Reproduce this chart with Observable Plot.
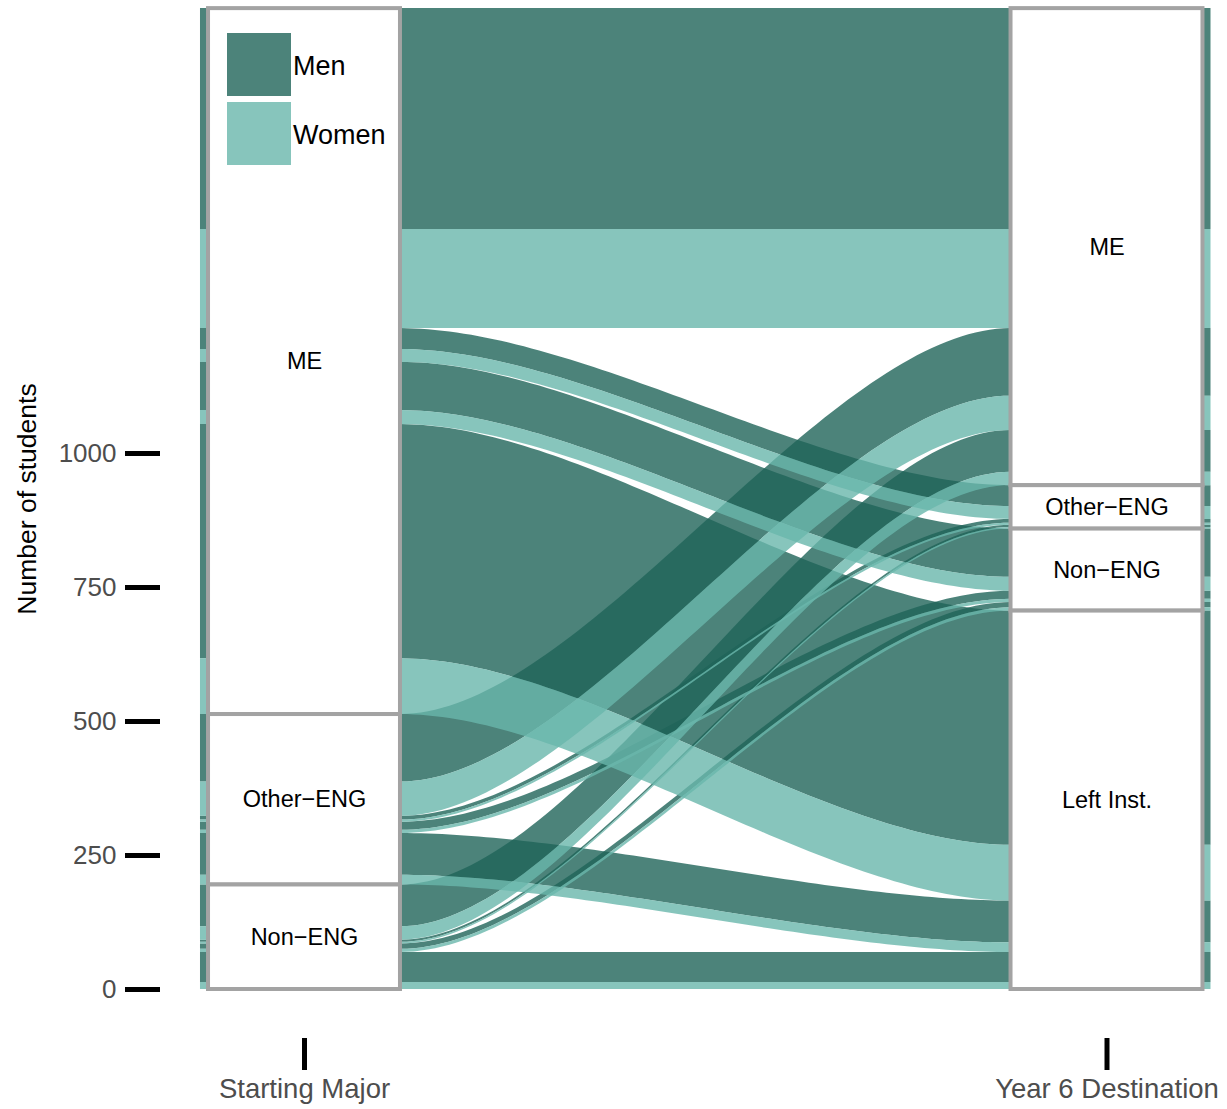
<!DOCTYPE html>
<html><head><meta charset="utf-8">
<script src="https://cdn.jsdelivr.net/npm/d3@7"></script>
<script src="https://cdn.jsdelivr.net/npm/@observablehq/plot@0.6"></script>
<style>
body{margin:0;background:#fff;font-family:"Liberation Sans",Arial,sans-serif;}
#wrap{position:relative;width:1227px;height:1109px;}
.legend{position:absolute;left:227px;top:33px;}
.legend .row{display:flex;align-items:center;height:63px;margin-bottom:6px;}
.legend .key{width:64px;height:63px;}
.legend .lab{font-size:27px;color:#000;margin-left:2px;position:relative;top:2px;}
</style></head><body><div id="wrap"></div>
<script>
const startMajors = ["ME", "Other−ENG", "Non−ENG"];
const destinations = ["ME", "Other−ENG", "Non−ENG", "Left Inst."];
const sexes = ["Men", "Women"];
// rows: starting major; columns: destination
const menCounts = [
  [412, 39, 90, 437],
  [126, 7, 15, 78],
  [78, 4, 10, 56]
];
const womenCounts = [
  [185, 24, 26, 104],
  [64, 4, 6, 18],
  [25, 3, 6, 13]
];
const axisLabels = ["Starting Major", "Year 6 Destination"];
const yTicks = [0, 250, 500, 750, 1000];
const sexColors = ["#1f6459", "#69b6ab"];
const flowOpacity = 0.8;

const boxHalf = 0.1196, lodeHalf = 0.1296, k = 0.3;

const flows = [];
startMajors.forEach((o, i) => destinations.forEach((d, j) => sexes.forEach((s, si) => {
  const n = (si === 0 ? menCounts : womenCounts)[i][j];
  flows.push({origin: o, oi: i, dest: d, di: j, sex: s, si, n, id: `${o}|${d}|${s}`});
})));
const total = d3.sum(flows, f => f.n);
{
  let top = total;
  for (const f of [...flows].sort((a, b) => a.oi - b.oi || a.di - b.di || a.si - b.si)) {
    f.a0 = top; f.b0 = top - f.n; top -= f.n;
  }
  top = total;
  for (const f of [...flows].sort((a, b) => a.di - b.di || a.oi - b.oi || a.si - b.si)) {
    f.a1 = top; f.b1 = top - f.n; top -= f.n;
  }
}
const strata = [];
startMajors.forEach((name, i) => {
  const fs = flows.filter(f => f.oi === i);
  strata.push({axis: 1, name, top: d3.max(fs, f => f.a0), bottom: d3.min(fs, f => f.b0)});
});
destinations.forEach((name, j) => {
  const fs = flows.filter(f => f.di === j);
  strata.push({axis: 2, name, top: d3.max(fs, f => f.a1), bottom: d3.min(fs, f => f.b1)});
});

// flow polygons: flat lode + cubic curve + flat lode
const pts = [];
const ordered = [...flows].sort((a, b) => a.si - b.si);
const xs = 1 + boxHalf, xe = 2 - boxHalf;
for (const f of ordered) {
  if (f.n <= 0) continue;
  pts.push({id: f.id, sex: f.sex, x: 1 - lodeHalf, yt: f.a0, yb: f.b0});
  const N = 80;
  for (let q = 0; q <= N; q++) {
    const t = q / N;
    const X = 3 * k * t * (1 - t) ** 2 + 3 * (1 - k) * t * t * (1 - t) + t ** 3;
    const s = 3 * t * t - 2 * t ** 3;
    pts.push({id: f.id, sex: f.sex, x: xs + (xe - xs) * X,
      yt: f.a0 + (f.a1 - f.a0) * s, yb: f.b0 + (f.b1 - f.b0) * s});
  }
  pts.push({id: f.id, sex: f.sex, x: 2 + lodeHalf, yt: f.a1, yb: f.b1});
}

const plot = Plot.plot({
  width: 1227, height: 1109,
  marginTop: 8, marginBottom: 120, marginLeft: 160, marginRight: 17,
  style: {fontFamily: "Liberation Sans, Arial, sans-serif", overflow: "visible"},
  x: {type: "linear", domain: [1, 2], range: [304, 1106.5], axis: null},
  y: {domain: [0, 1000], range: [989, 453], axis: null, label: null},
  color: {domain: sexes, range: sexColors},
  marks: [
    Plot.areaY(pts, {x: "x", y1: "yb", y2: "yt", z: "id", fill: "sex", fillOpacity: flowOpacity, curve: "linear"}),
    Plot.rect(strata, {x1: d => d.axis - boxHalf, x2: d => d.axis + boxHalf, y1: "bottom", y2: "top",
      fill: "white", stroke: "#a3a3a3", strokeWidth: 4}),
    Plot.text(strata, {x: "axis", y: d => (d.top + d.bottom) / 2, text: "name", fontSize: 23.5, fill: "black"}),
    Plot.axisY(yTicks, {anchor: "left", tickSize: 35, strokeWidth: 5, stroke: "black", fill: "#4d4d4d",
      fontSize: 26, tickPadding: 9, tickFormat: d => String(d), label: null}),
    Plot.axisX([1, 2], {anchor: "bottom", tickSize: 32, strokeWidth: 5, stroke: "black", fill: "#4d4d4d",
      fontSize: 27.5, tickPadding: 8, tickFormat: d => axisLabels[d - 1], dy: 49, label: null}),
    Plot.text(["Number of students"], {frameAnchor: "left", textAnchor: "middle", dx: -133, rotate: -90, fontSize: 26.5, fill: "black"})
  ]
});
const wrap = document.getElementById("wrap");
wrap.appendChild(plot);
const legend = document.createElement("div");
legend.className = "legend";
sexes.forEach((s, i) => {
  const row = document.createElement("div");
  row.className = "row";
  const key = document.createElement("div");
  key.className = "key";
  key.style.background = sexColors[i];
  key.style.opacity = flowOpacity;
  const lab = document.createElement("span");
  lab.className = "lab";
  lab.textContent = s;
  row.appendChild(key); row.appendChild(lab);
  legend.appendChild(row);
});
wrap.appendChild(legend);
</script></body></html>
